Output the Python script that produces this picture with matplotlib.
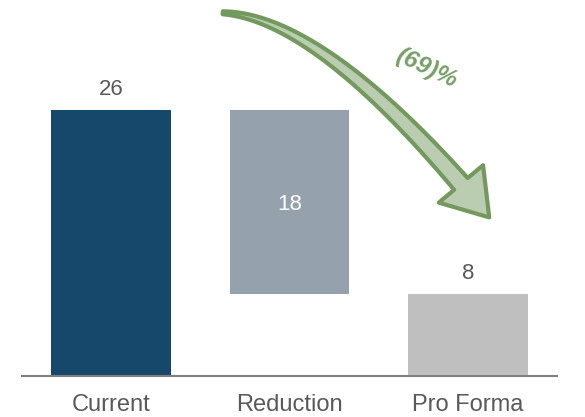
import numpy as np
import matplotlib.pyplot as plt
from matplotlib.patches import Polygon

plt.rcParams['font.family'] = ['Liberation Sans', 'DejaVu Sans']

# waterfall data
categories = ['Current', 'Reduction', 'Pro Forma']
current = 26
pro_forma = 8
reduction = current - pro_forma
change_label = '(69)%'

heights = [current, reduction, pro_forma]
bottoms = [0, pro_forma, 0]
colors = ['#16486c', '#95a1ad', '#bfbfbf']

fig = plt.figure(figsize=(5.85, 4.17), dpi=100)
ax = fig.add_axes([22 / 585, 1 - 376 / 417, 535 / 585, 376 / 417])

x = range(len(categories))
ax.bar(x, heights, bottom=bottoms, width=0.67, color=colors, zorder=2)

ax.set_xlim(-0.5, 2.5)
ax.set_ylim(0, 36.75)

text_col = '#595959'
# labels above the two total bars, inside the reduction bar
ax.annotate(str(current), (0, current), xytext=(0, 7), textcoords='offset points',
            ha='center', va='bottom', fontsize=16, color=text_col)
ax.annotate(str(pro_forma), (2, pro_forma), xytext=(0, 7), textcoords='offset points',
            ha='center', va='bottom', fontsize=16, color=text_col)
ax.text(1, pro_forma + reduction / 2, str(reduction), ha='center', va='center_baseline',
        fontsize=16, color='white')


def curved_arrow(ax, start, ctrl, tip, w0=1.5, w1=9.0, head_w=29, head_len=43):
    # tapered curved arrow (quadratic bezier), built in pixels, mapped back to data
    p0 = ax.transData.transform(start)
    c = ax.transData.transform(ctrl)
    p2 = ax.transData.transform(tip)
    t = np.linspace(0, 1, 400)[:, None]
    pts = (1 - t) ** 2 * p0 + 2 * (1 - t) * t * c + t ** 2 * p2
    dist = np.linalg.norm(pts - p2, axis=1)
    body = pts[dist >= head_len]
    base = body[-1]
    tang = np.gradient(body, axis=0)
    tang /= np.linalg.norm(tang, axis=1)[:, None]
    norm = np.column_stack([-tang[:, 1], tang[:, 0]])
    w = np.linspace(w0, w1, len(body))[:, None]
    left = body + norm * w
    right = body - norm * w
    hd = (p2 - base) / np.linalg.norm(p2 - base)
    hn = np.array([-hd[1], hd[0]])
    outline = np.vstack([left, base + hn * head_w, p2, base - hn * head_w, right[::-1]])
    outline = ax.transData.inverted().transform(outline)
    return Polygon(outline, closed=True, facecolor='#bacdb1', edgecolor='#74995f',
                   linewidth=3, joinstyle='round', zorder=3)


ax.add_patch(curved_arrow(ax, (0.626, 35.5), (1.2, 35.0), (2.12, 15.5)))
ax.text(1.765, 30.1, change_label, ha='center', va='center', rotation=-25,
        fontsize=17.5, fontweight='bold', fontstyle='italic', color='#77a065')

ax.set_xticks(list(x))
ax.set_xticklabels(categories, fontsize=17, color=text_col)
ax.tick_params(axis='x', length=0, pad=13)
ax.set_yticks([])
for s in ['top', 'right', 'left']:
    ax.spines[s].set_visible(False)
ax.spines['bottom'].set_color('#808080')
ax.spines['bottom'].set_linewidth(1.5)

fig.savefig('out.png', dpi=100)
